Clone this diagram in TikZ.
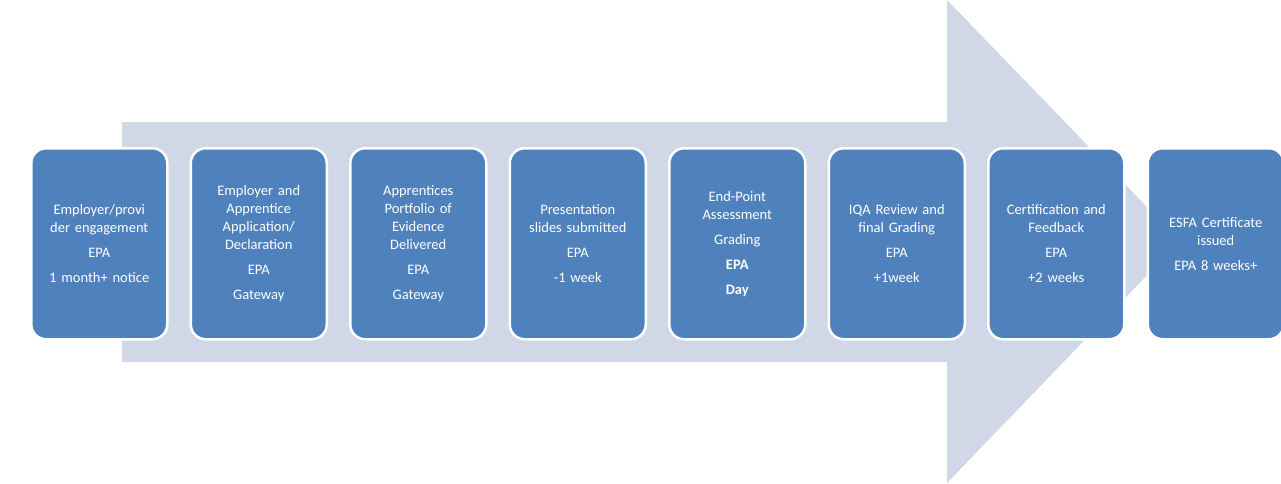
\documentclass[tikz,border=0pt]{standalone}
\usepackage{fontspec}
\setmainfont{Carlito}
\definecolor{boxblue}{RGB}{79,129,189}
\definecolor{arrowbg}{RGB}{208,216,232}
\begin{document}
\begin{tikzpicture}[x=1pt,y=-1pt,
  stepbox/.style={draw=white,line width=2.5pt,fill=boxblue,rounded corners=15pt,minimum width=136pt,minimum height=191pt,text width=126pt,align=center,text=white,font=\fontsize{14.5}{18}\selectfont,anchor=north west,inner sep=3pt}]
\useasboundingbox (0,0) rectangle (1281,483);
\fill[arrowbg] (122,122) -- (947,122) -- (947,0) -- (1180,241) -- (947,483) -- (947,362) -- (122,362) -- cycle;
\node[stepbox] (b1) at (30,147) {Employer/provi\\der engagement\\[7pt]EPA\\[7pt]1 month+ notice};
\node[stepbox] (b2) at (189.5,147) {Employer and\\Apprentice\\Application/\\Declaration\\[7pt]EPA\\[7pt]Gateway};
\node[stepbox] (b3) at (349,147) {Apprentices\\Portfolio of\\Evidence\\Delivered\\[7pt]EPA\\[7pt]Gateway};
\node[stepbox] (b4) at (508.5,147) {Presentation\\slides submitted\\[7pt]EPA\\[7pt]-1 week};
\node[stepbox] (b5) at (668,147) {End-Point\\Assessment\\[7pt]Grading\\[7pt]\textbf{EPA}\\[7pt]\textbf{Day}};
\node[stepbox] (b6) at (827.5,147) {IQA Review and\\final Grading\\[7pt]EPA\\[7pt]+1week};
\node[stepbox] (b7) at (987,147) {Certification and\\Feedback\\[7pt]EPA\\[7pt]+2 weeks};
\node[stepbox] (b8) at (1146.5,147) {ESFA Certificate\\issued\\[7pt]EPA 8 weeks+};
\end{tikzpicture}
\end{document}
